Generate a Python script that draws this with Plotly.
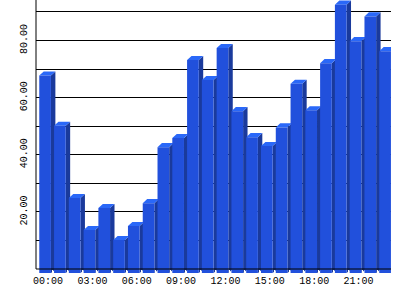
import plotly.graph_objects as go

hours = [f"{h:02d}:00" for h in range(24)]
values = [69.2, 51.6, 26.3, 15.1, 22.8, 11.6, 16.5, 24.5, 44.1, 47.3, 74.6, 67.6,
          78.8, 56.7, 47.6, 44.5, 51.0, 66.3, 57.0, 73.5, 94.0, 81.2, 89.9, 77.7]
label_hours = hours[::3]
y_tickvals = [10, 20, 30, 40, 50, 60, 70, 80, 90]
y_ticktext = ["", "20.00", "", "40.00", "", "60.00", "", "80.00", ""]

# 3D look parameters (in data units)
W = 0.79   # front face width
DX = 0.30  # depth offset to the right
DY = 1.45  # depth offset upward

FRONT = "#2150dc"
SIDE = "#1a3a9c"
TOP = "#2a68f8"

xs_front, ys_front = [], []
xs_side, ys_side = [], []
xs_top, ys_top = [], []
for i, v in enumerate(values):
    l, r = i - W / 2, i + W / 2
    xs_front += [l, r, r, l, l, None]
    ys_front += [-DY, -DY, v - DY, v - DY, -DY, None]
    xs_side += [r, r + DX, r + DX, r, r, None]
    ys_side += [-DY, 0, v, v - DY, -DY, None]
    xs_top += [l, r, r + DX, l + DX, l, None]
    ys_top += [v - DY, v - DY, v, v, v - DY, None]

fig = go.Figure()
for xs, ys, c in [(xs_side, ys_side, SIDE), (xs_top, ys_top, TOP), (xs_front, ys_front, FRONT)]:
    fig.add_trace(go.Scatter(x=xs, y=ys, mode="lines", fill="toself", fillcolor=c,
                             line=dict(width=0, color=c), hoverinfo="skip", showlegend=False))

x_label_pos = [hours.index(h) + 0.2 for h in label_hours]

fig.update_layout(
    width=400, height=300,
    margin=dict(l=36, r=9, t=0, b=27, pad=0),
    paper_bgcolor="white", plot_bgcolor="white",
    font=dict(family="Liberation Mono", size=10, color="black"),
    xaxis=dict(range=[-0.616, 23.40], tickvals=x_label_pos, ticktext=label_hours,
               showgrid=False, zeroline=False, showline=False, ticks="",
               minor=dict(tickvals=[i + 0.5 for i in range(-1, 24)], ticks="inside",
                          ticklen=3, tickcolor="white", tickwidth=1)),
    yaxis=dict(range=[-1.4, 94.2], tickvals=y_tickvals, ticktext=y_ticktext,
               tickangle=-90, showgrid=True, gridcolor="black", gridwidth=1,
               zeroline=False, showline=False, ticks="outside", ticklen=4,
               tickcolor="rgba(0,0,0,0)"),
    shapes=[
        dict(type="line", xref="paper", yref="y", x0=0, x1=1, y0=0, y1=0,
             line=dict(color="black", width=1), layer="above"),
        dict(type="line", xref="paper", yref="y", x0=0, x1=0, y0=0, y1=94.2,
             line=dict(color="black", width=1), layer="above"),
    ],
)

fig.write_html("out.html")
